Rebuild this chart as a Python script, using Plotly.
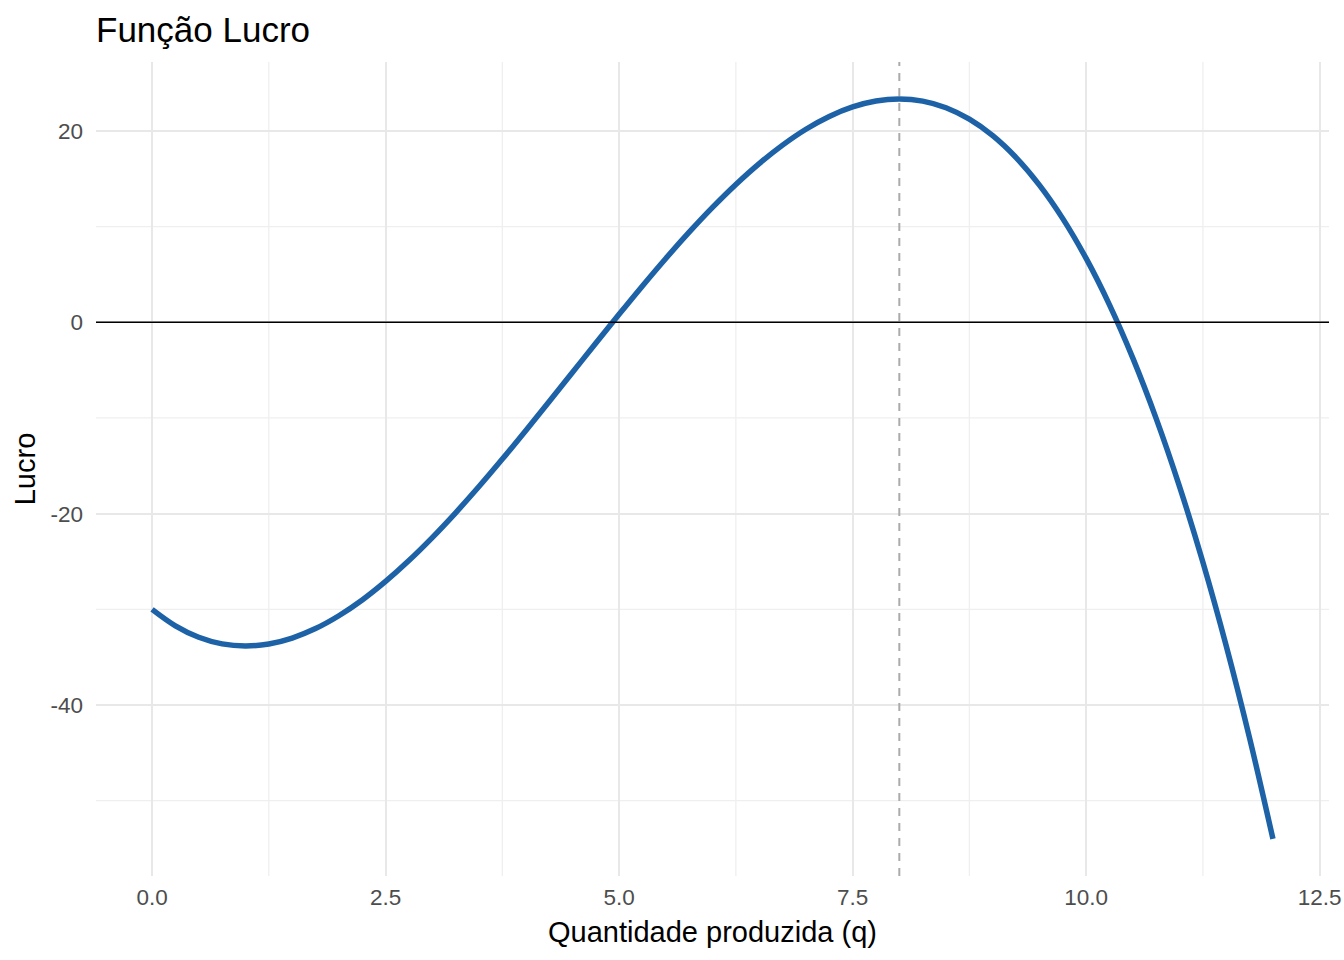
import plotly.graph_objects as go

q_values = [0, 0.25, 0.5, 0.75, 1, 1.25, 1.5, 1.75, 2, 2.25, 2.5, 2.75, 3, 3.25, 3.5, 3.75,
            4, 4.25, 4.5, 4.75, 5, 5.25, 5.5, 5.75, 6, 6.25, 6.5, 6.75, 7, 7.25, 7.5, 7.75,
            8, 8.25, 8.5, 8.75, 9, 9.25, 9.5, 9.75, 10, 10.25, 10.5, 10.75, 11, 11.25,
            11.5, 11.75, 12]
lucro_values = [-30.0, -31.72, -32.92, -33.61, -33.83, -33.62, -33.0, -32.01, -30.67,
                -29.02, -27.08, -24.90, -22.5, -19.91, -17.17, -14.30, -11.33, -8.31,
                -5.25, -2.19, 0.83, 3.80, 6.67, 9.41, 12.0, 14.40, 16.58, 18.51, 20.17,
                21.51, 22.5, 23.12, 23.33, 23.11, 22.42, 21.22, 19.5, 17.21, 14.33, 10.83,
                6.67, 1.82, -3.75, -10.07, -17.17, -25.08, -33.83, -43.46, -54.0]
q_otimo = 8
x_major = [0, 2.5, 5, 7.5, 10, 12.5]
x_major_labels = ["0.0", "2.5", "5.0", "7.5", "10.0", "12.5"]
x_minor = [1.25, 3.75, 6.25, 8.75, 11.25]
y_major = [-40, -20, 0, 20]
y_minor = [-50, -30, -10, 10]

font = "Liberation Sans, Arial, Helvetica, sans-serif"
W, H = 1344, 960

fig = go.Figure()
fig.add_trace(go.Scatter(x=q_values, y=lucro_values, mode="lines",
                         line=dict(color="#1D62A6", width=5.5, shape="spline", smoothing=1.0),
                         showlegend=False, hoverinfo="x+y"))

shapes = []
for xv in x_minor:
    shapes.append(dict(type="line", xref="x", yref="paper", x0=xv, x1=xv, y0=0, y1=1,
                       line=dict(color="#EFEFEF", width=1.3), layer="below"))
for yv in y_minor:
    shapes.append(dict(type="line", xref="paper", yref="y", x0=0, x1=1, y0=yv, y1=yv,
                       line=dict(color="#EFEFEF", width=1.3), layer="below"))
shapes.append(dict(type="line", xref="paper", yref="y", x0=0, x1=1, y0=0, y1=0,
                   line=dict(color="black", width=1.7)))
shapes.append(dict(type="line", xref="x", yref="paper", x0=q_otimo, x1=q_otimo, y0=0, y1=1,
                   line=dict(color="#ABABAB", width=2, dash="8px,7px")))

fig.update_layout(
    width=W, height=H,
    paper_bgcolor="white", plot_bgcolor="white",
    margin=dict(l=96, r=15, t=62, b=84, autoexpand=False),
    title=dict(text="Função Lucro", x=96/W, xanchor="left", y=1-30/H, yanchor="middle",
               font=dict(family=font, size=35, color="black")),
    font=dict(family=font),
    shapes=shapes,
    xaxis=dict(range=[-0.6, 12.6], tickvals=x_major, ticktext=x_major_labels,
               showgrid=True, gridcolor="#E8E8E8", gridwidth=2, zeroline=False,
               showline=False, ticks="", tickfont=dict(size=22.5, color="#4D4D4D"),
               automargin=False, ticklabelstandoff=5,
               title=dict(text="Quantidade produzida (q)", font=dict(size=29, color="black"), standoff=13)),
    yaxis=dict(range=[-57.87, 27.2], tickvals=y_major, ticktext=[str(v) for v in y_major],
               showgrid=True, gridcolor="#E8E8E8", gridwidth=2, zeroline=False,
               showline=False, ticks="", tickfont=dict(size=22.5, color="#4D4D4D"),
               automargin=False, ticklabelstandoff=12,
               title=dict(text="Lucro", font=dict(size=29, color="black"), standoff=6)),
)

fig.write_html("out.html", config={"displayModeBar": False},
               post_script="document.body.style.margin='0px';document.body.style.overflow='hidden';")
